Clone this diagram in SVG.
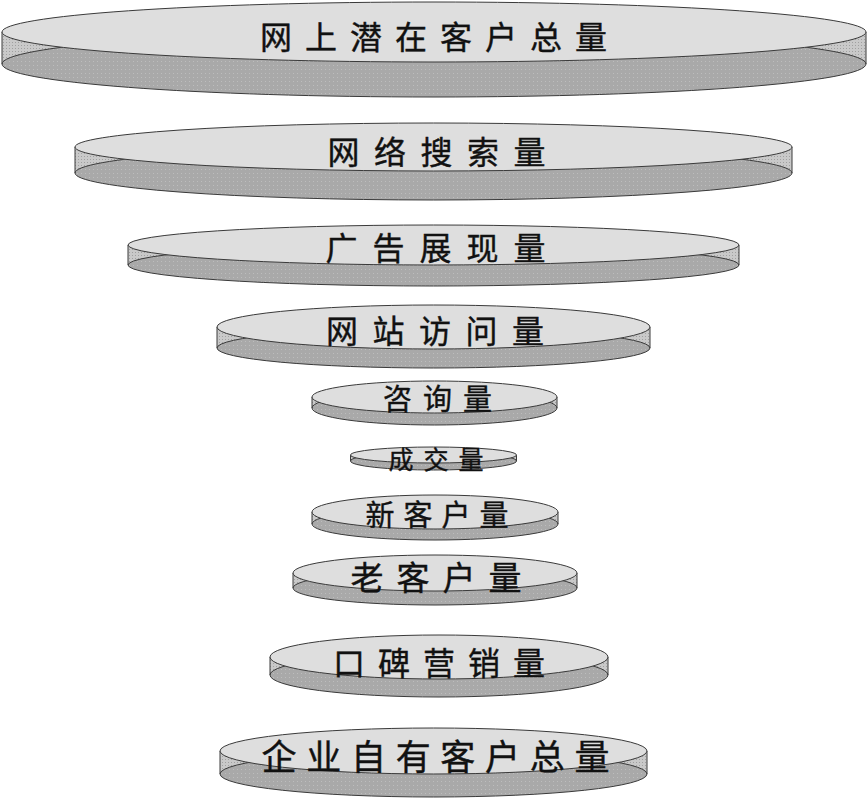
<svg xmlns="http://www.w3.org/2000/svg" width="868" height="806" viewBox="0 0 868 806">
<defs>
<pattern id="dotDark" width="4" height="4" patternUnits="userSpaceOnUse">
<rect width="4" height="4" fill="#a9a9a9"/>
<rect x="1" y="1" width="1" height="1" fill="#bdbdbd"/>
</pattern>
<pattern id="dotSide" width="3" height="3" patternUnits="userSpaceOnUse">
<rect width="3" height="3" fill="#c9c9c9"/>
<rect x="0" y="0" width="1" height="1" fill="#a0a0a0"/>
</pattern>
</defs>
<style>
.side{fill:url(#dotSide);stroke:none}
.edge{stroke:#3a3a3a;stroke-width:1;fill:none}
.bot{fill:url(#dotDark);stroke:#3a3a3a;stroke-width:1}
.top{fill:#dedede;stroke:#3a3a3a;stroke-width:1}
.lbl{font-family:"Noto Sans CJK SC","Noto Sans CJK JP",sans-serif;font-weight:400;fill:#111111;stroke:#111111;stroke-width:0.4;text-anchor:middle;dominant-baseline:central}
</style>
<rect width="868" height="806" fill="#ffffff"/>

<g id="disk1">
<rect class="side" x="2" y="32" width="864" height="32"/>
<ellipse class="bot" cx="434" cy="64" rx="432" ry="33"/>
<path class="edge" d="M2 32V64M866 32V64"/>
<ellipse class="top" cx="434" cy="32" rx="432" ry="30"/>
<text class="lbl" x="440" y="35" font-size="32" letter-spacing="13">网上潜在客户总量</text>
</g>

<g id="disk2">
<rect class="side" x="75" y="147" width="717" height="26"/>
<ellipse class="bot" cx="433.5" cy="173" rx="358.5" ry="27"/>
<path class="edge" d="M75 147V173M792 147V173"/>
<ellipse class="top" cx="433.5" cy="147" rx="358.5" ry="24"/>
<text class="lbl" x="443.75" y="150" font-size="32" letter-spacing="14.5">网络搜索量</text>
</g>

<g id="disk3">
<rect class="side" x="128" y="245" width="611" height="20"/>
<ellipse class="bot" cx="433.5" cy="265" rx="305.5" ry="21"/>
<path class="edge" d="M128 245V265M739 245V265"/>
<ellipse class="top" cx="433.5" cy="245" rx="305.5" ry="20"/>
<text class="lbl" x="443" y="246" font-size="32" letter-spacing="15">广告展现量</text>
</g>

<g id="disk4">
<rect class="side" x="217" y="327" width="433" height="21"/>
<ellipse class="bot" cx="433.5" cy="348" rx="216.5" ry="20"/>
<path class="edge" d="M217 327V348M650 327V348"/>
<ellipse class="top" cx="433.5" cy="327" rx="216.5" ry="22"/>
<text class="lbl" x="442.25" y="329" font-size="32" letter-spacing="14.5">网站访问量</text>
</g>

<g id="disk5">
<rect class="side" x="312" y="397" width="245" height="11"/>
<ellipse class="bot" cx="434.5" cy="408" rx="122.5" ry="17"/>
<path class="edge" d="M312 397V408M557 397V408"/>
<ellipse class="top" cx="434.5" cy="397" rx="122.5" ry="16"/>
<text class="lbl" x="443" y="397" font-size="29" letter-spacing="11">咨询量</text>
</g>

<g id="disk6">
<rect class="side" x="350.5" y="455" width="166" height="6"/>
<ellipse class="bot" cx="433.5" cy="461" rx="83" ry="9"/>
<path class="edge" d="M350.5 455V461M516.5 455V461"/>
<ellipse class="top" cx="433.5" cy="455" rx="83" ry="8"/>
<text class="lbl" x="441" y="458" font-size="25" letter-spacing="10">成交量</text>
</g>

<g id="disk7">
<rect class="side" x="312" y="512" width="246" height="12"/>
<ellipse class="bot" cx="435" cy="524" rx="123" ry="16"/>
<path class="edge" d="M312 512V524M558 512V524"/>
<ellipse class="top" cx="435" cy="512" rx="123" ry="17"/>
<text class="lbl" x="441.5" y="513" font-size="29" letter-spacing="9">新客户量</text>
</g>

<g id="disk8">
<rect class="side" x="293" y="573" width="284" height="15"/>
<ellipse class="bot" cx="435" cy="588" rx="142" ry="17"/>
<path class="edge" d="M293 573V588M577 573V588"/>
<ellipse class="top" cx="435" cy="573" rx="142" ry="18"/>
<text class="lbl" x="442.5" y="576" font-size="33" letter-spacing="13">老客户量</text>
</g>

<g id="disk9">
<rect class="side" x="270" y="657" width="338" height="18"/>
<ellipse class="bot" cx="439" cy="675" rx="169" ry="22"/>
<path class="edge" d="M270 657V675M608 657V675"/>
<ellipse class="top" cx="439" cy="657" rx="169" ry="22"/>
<text class="lbl" x="445.5" y="661" font-size="32" letter-spacing="13">口碑营销量</text>
</g>

<g id="disk10">
<rect class="side" x="220" y="751" width="427" height="23"/>
<ellipse class="bot" cx="433.5" cy="774" rx="213.5" ry="23"/>
<path class="edge" d="M220 751V774M647 751V774"/>
<ellipse class="top" cx="433.5" cy="751" rx="213.5" ry="23"/>
<text class="lbl" x="440.35" y="754" font-size="35" letter-spacing="9.7">企业自有客户总量</text>
</g>

<g id="connectors"></g>
</svg>
